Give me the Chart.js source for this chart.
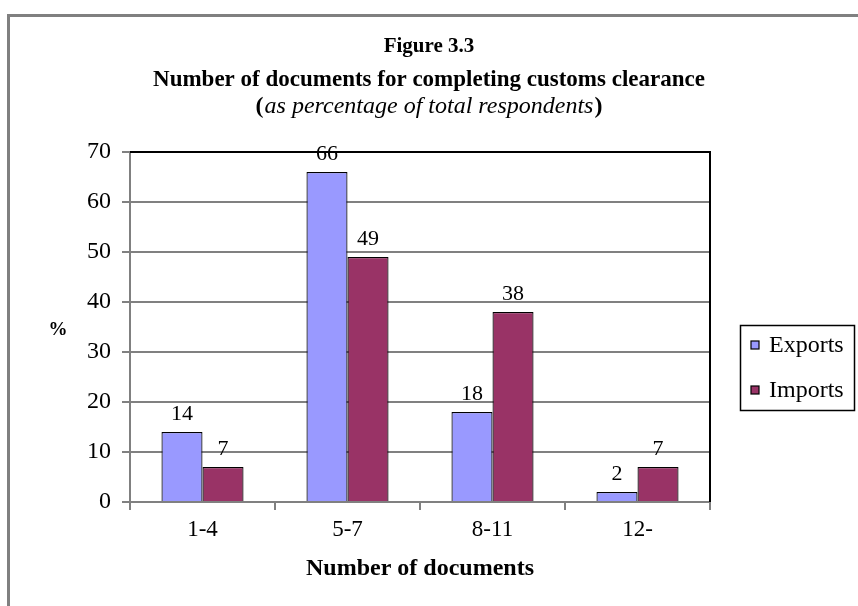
<!DOCTYPE html>
<html>
<head>
<meta charset="utf-8">
<script src="https://cdn.jsdelivr.net/npm/chart.js@4/dist/chart.umd.min.js"></script>
<style>
  html, body { margin: 0; padding: 0; background: #fff; }
  #wrap { width: 858px; height: 606px; position: relative; }
</style>
</head>
<body>
<div id="wrap"><canvas id="chart"></canvas></div>
<script>
const categories = ['1-4', '5-7', '8-11', '12-'];
const exportsValues = [14, 66, 18, 2];
const importsValues = [7, 49, 38, 7];
const seriesNames = ['Exports', 'Imports'];
const seriesColors = ['#9999ff', '#993366'];
const titleLines = ['Figure 3.3', 'Number of documents for completing customs clearance', 'as percentage of total respondents'];

const SERIF = "'Liberation Serif', 'Times New Roman', serif";

// cadre, titres, étiquettes et légende
const decorPlugin = {
  id: 'decor',
  beforeDraw(chart) {
    const ctx = chart.ctx;
    ctx.save();
    ctx.fillStyle = '#fff';
    ctx.fillRect(0, 0, chart.width, chart.height);
    ctx.fillStyle = '#808080';
    ctx.fillRect(7, 14, chart.width - 7, 3);
    ctx.fillRect(7, 14, 3, chart.height - 14);
    ctx.restore();
  },
  afterDraw(chart) {
    const ctx = chart.ctx;
    const area = chart.chartArea;
    ctx.save();

    // bord haut et droit du graphique
    ctx.strokeStyle = '#000';
    ctx.lineWidth = 2;
    ctx.beginPath();
    ctx.moveTo(area.left, area.top);
    ctx.lineTo(area.right, area.top);
    ctx.lineTo(area.right, area.bottom);
    ctx.stroke();

    // titres
    ctx.fillStyle = '#000';
    ctx.textAlign = 'center';
    ctx.textBaseline = 'middle';
    const cx = chart.width / 2;
    ctx.font = 'bold 21px ' + SERIF;
    ctx.fillText(titleLines[0], cx, 47);
    ctx.font = 'bold 23px ' + SERIF;
    ctx.fillText(titleLines[1], cx, 80);
    ctx.font = 'italic 24px ' + SERIF;
    const w = ctx.measureText(titleLines[2]).width;
    ctx.fillText(titleLines[2], cx, 107);
    ctx.font = 'bold 24px ' + SERIF;
    ctx.textAlign = 'right';
    ctx.fillText('(', cx - w / 2 - 1, 107);
    ctx.textAlign = 'left';
    ctx.fillText(')', cx + w / 2 + 1, 107);

    // titres des axes
    ctx.textAlign = 'center';
    ctx.font = 'bold 19px ' + SERIF;
    ctx.fillText('%', 58, 330);
    ctx.font = 'bold 24px ' + SERIF;
    ctx.fillText('Number of documents', (area.left + area.right) / 2, 569);

    // étiquettes des barres
    ctx.font = '22px ' + SERIF;
    ctx.textBaseline = 'bottom';
    chart.data.datasets.forEach((ds, i) => {
      const meta = chart.getDatasetMeta(i);
      meta.data.forEach((bar, j) => {
        ctx.fillText(String(ds.data[j]), bar.x, bar.y - 7);
      });
    });

    // légende
    ctx.lineWidth = 1.5;
    ctx.strokeRect(740.5, 325.5, 114, 85);
    const rows = [345, 390];
    chart.data.datasets.forEach((ds, i) => {
      const y = rows[i];
      ctx.fillStyle = ds.backgroundColor;
      ctx.fillRect(751, y - 4, 8, 8);
      ctx.strokeStyle = '#000';
      ctx.lineWidth = 1.2;
      ctx.strokeRect(751, y - 4, 8, 8);
      ctx.fillStyle = '#000';
      ctx.font = '24px ' + SERIF;
      ctx.textAlign = 'left';
      ctx.textBaseline = 'middle';
      ctx.fillText(ds.label, 769, y + 1);
    });
    ctx.restore();
  }
};

new Chart(document.getElementById('chart'), {
  type: 'bar',
  data: {
    labels: categories,
    datasets: [
      {
        label: seriesNames[0],
        data: exportsValues,
        backgroundColor: seriesColors[0],
        borderColor: '#000',
        borderWidth: 1.2,
        categoryPercentage: 0.566,
        barPercentage: 1
      },
      {
        label: seriesNames[1],
        data: importsValues,
        backgroundColor: seriesColors[1],
        borderColor: '#000',
        borderWidth: 1.2,
        categoryPercentage: 0.566,
        barPercentage: 1
      }
    ]
  },
  options: {
    responsive: true,
    maintainAspectRatio: false,
    animation: false,
    layout: { padding: { top: 152, right: 148, left: 0, bottom: 0 } },
    plugins: {
      legend: { display: false },
      title: { display: false },
      tooltip: { enabled: false }
    },
    scales: {
      x: {
        grid: {
          offset: true,
          drawOnChartArea: false,
          color: '#808080',
          lineWidth: 2,
          tickLength: 8
        },
        border: { color: '#808080', width: 2 },
        ticks: {
          color: '#000',
          font: { family: SERIF, size: 23 },
          padding: 6
        },
        afterFit(scale) { scale.height = 104; }
      },
      y: {
        min: 0,
        max: 70,
        ticks: {
          stepSize: 10,
          color: '#000',
          font: { family: SERIF, size: 24 },
          padding: 11
        },
        grid: {
          color: '#808080',
          lineWidth: 2,
          tickLength: 8
        },
        border: { color: '#808080', width: 2 },
        afterFit(scale) { scale.width = 130; }
      }
    }
  },
  plugins: [decorPlugin]
});
</script>
</body>
</html>
